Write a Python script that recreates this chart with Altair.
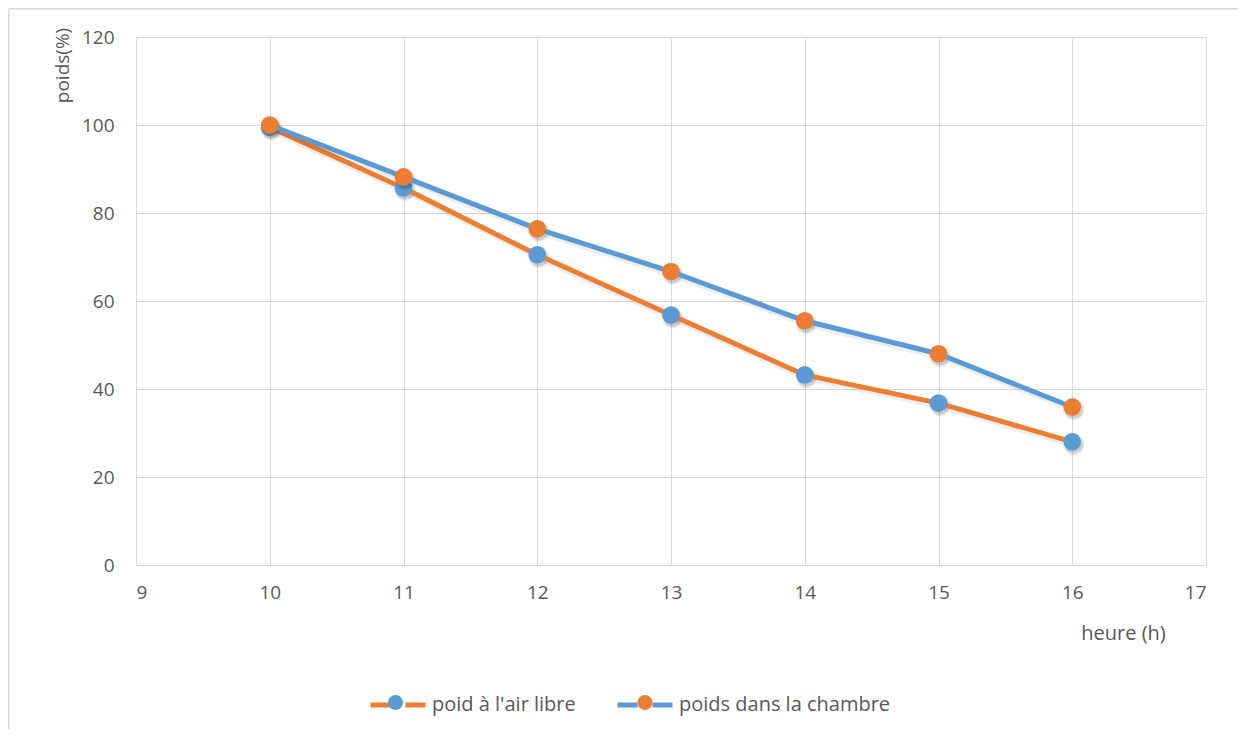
import altair as alt
import pandas as pd

# ---- data ----
heures = [10, 11, 12, 13, 14, 15, 16]
air_libre = [99.5, 85.7, 70.5, 56.8, 43.2, 36.8, 28.0]
chambre = [100.0, 88.2, 76.4, 66.7, 55.5, 48.0, 35.9]
series = ["poid à l'air libre", "poids dans la chambre"]
marker_codes = ["m1", "m2"]
y_ticks = [0, 20, 40, 60, 80, 100, 120]
x_ticks = [9, 10, 11, 12, 13, 14, 15, 16, 17]

ORANGE = "#ED7D31"
BLUE = "#5B9BD5"
GRID = "#D9D9D9"
TEXT = "#595959"
FONT = "Open Sans"
FS = 19

rows = []
for h, v in zip(heures, air_libre):
    rows.append({"heure": h, "poids": v, "serie": series[0], "marqueur": marker_codes[0]})
for h, v in zip(heures, chambre):
    rows.append({"heure": h, "poids": v, "serie": series[1], "marqueur": marker_codes[1]})
df = pd.DataFrame(rows)

W, H = 1070, 528

x_enc = alt.X(
    "heure:Q",
    scale=alt.Scale(domain=[9, 17], nice=False, zero=False),
    axis=alt.Axis(
        values=x_ticks, title="heure (h)", grid=True, gridColor=GRID, domain=False,
        ticks=False, labelPadding=18, labelFont=FONT, labelFontSize=FS, labelColor=TEXT,
        titleFont=FONT, titleFontSize=20, titleFontWeight="normal", titleColor=TEXT,
        titleX=987, titleY=68, titleAlign="center", titleBaseline="middle",
    ),
)
y_enc = alt.Y(
    "poids:Q",
    scale=alt.Scale(domain=[0, 120], nice=False),
    axis=alt.Axis(
        values=y_ticks, title="poids(%)", grid=True, gridColor=GRID, domain=False,
        ticks=False, labelPadding=22, labelFont=FONT, labelFontSize=FS, labelColor=TEXT,
        titleFont=FONT, titleFontSize=19, titleFontWeight="normal", titleColor=TEXT,
        titleAngle=-90, titleX=-74, titleY=28, titleAlign="center", titleBaseline="middle",
    ),
)

LEG_Y = 638
leg_common = dict(
    orient="none", legendY=LEG_Y, direction="horizontal", title=None,
    symbolSize=3025, labelFont=FONT, labelFontSize=20, labelColor=TEXT,
    labelOffset=4, columnPadding=31, labelLimit=500, padding=0,
)

stroke_enc = alt.Stroke(
    "serie:N",
    scale=alt.Scale(domain=series, range=[ORANGE, BLUE]),
    legend=alt.Legend(symbolType="M-1,0H-0.27M0.27,0H1", symbolStrokeWidth=5,
                      legendX=232, **leg_common),
)

CIRCLE = "M-0.27,0A0.27,0.27,0,1,0,0.27,0A0.27,0.27,0,1,0,-0.27,0Z"
marker_colors = [BLUE, ORANGE]
marker_legend_x = [232, 481.5]

base = alt.Chart(df)

def sub(i):
    return base.transform_filter(alt.datum.serie == series[i])

def shadow_layers(i):
    ls = sub(i).mark_line(
        strokeWidth=7, color="black", opacity=0.07, xOffset=1.5, yOffset=2.5,
        strokeCap="round", strokeJoin="round",
    ).encode(x=x_enc, y=y_enc)
    p1 = sub(i).mark_circle(size=460, color="black", opacity=0.08,
                            xOffset=1.5, yOffset=2.5).encode(x=x_enc, y=y_enc)
    p2 = sub(i).mark_circle(size=340, color="black", opacity=0.12,
                            xOffset=1.5, yOffset=2.5).encode(x=x_enc, y=y_enc)
    return [ls, p1, p2]

def line_layer(i):
    return sub(i).mark_line(
        strokeWidth=5, strokeCap="round", strokeJoin="round"
    ).encode(x=x_enc, y=y_enc, stroke=stroke_enc)

def point_layer(i):
    fill_enc = alt.Fill(
        "marqueur:N",
        scale=alt.Scale(domain=[marker_codes[i]], range=[marker_colors[i]]),
        legend=alt.Legend(
            symbolType=CIRCLE, symbolStrokeWidth=0, symbolOpacity=1, labelExpr="''",
            zindex=2, legendX=marker_legend_x[i], **leg_common,
        ),
    )
    return sub(i).mark_circle(size=310, opacity=1).encode(x=x_enc, y=y_enc, fill=fill_enc)

frame_df = pd.DataFrame({"k": [0]})
frame_left = alt.Chart(frame_df).mark_rule(color=GRID, strokeWidth=1.5, clip=False).encode(
    x=alt.value(-127.2), y=alt.value(-28.2), y2=alt.value(H + 400),
)
frame_top = alt.Chart(frame_df).mark_rule(color=GRID, strokeWidth=1.5, clip=False).encode(
    y=alt.value(-28.2), x=alt.value(-127.2), x2=alt.value(W + 300),
)

layers = [frame_left, frame_top]
for i in range(2):
    layers += shadow_layers(i)
    layers += [line_layer(i), point_layer(i)]

chart = alt.layer(*layers).resolve_scale(fill="independent").resolve_legend(
    fill="independent"
).properties(
    width=W, height=H,
    autosize=alt.AutoSizeParams(type="none"),
    padding={"left": 128, "top": 29, "right": 31, "bottom": 164},
).configure_view(stroke=None).configure(background="white")

chart.save("out.html", embed_options={"renderer": "svg", "actions": False})
